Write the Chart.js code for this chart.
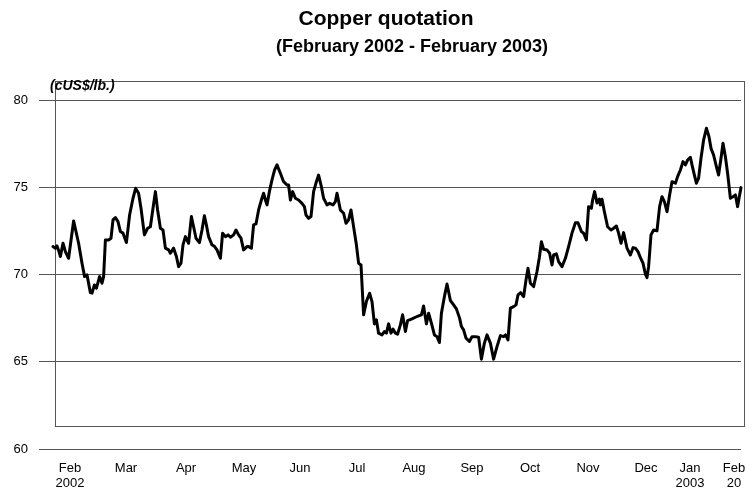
<!DOCTYPE html>
<html>
<head>
<meta charset="utf-8">
<title>Copper quotation</title>
<script src="https://cdn.jsdelivr.net/npm/chart.js@4.4.1/dist/chart.umd.min.js"></script>
<style>
  html, body { margin: 0; padding: 0; background: #fff; }
  #wrap { width: 749px; height: 490px; }
</style>
</head>
<body>
<div id="wrap"><canvas id="chart" width="749" height="490"></canvas></div>
<script>
// Copper price, cUS$/lb, counted in days from the start of the period
const day = [0,1.2,2,2.9,3.7,5,6.2,7.8,10.3,12.8,14.5,15.8,17,18.7,19.5,20.7,21.7,23.3,24.5,25.3,
  26.2,27.8,29,30,31.2,32.5,33.7,35,36.7,38.3,40,41.3,42.8,44,45.7,47.3,48.7,50,51.2,52.3,
  53.7,55,56.2,57.8,58.7,60.3,61.7,62.8,64,65,66.2,67.8,69.2,70.3,71.5,73.2,74.5,75.7,76.7,77.8,
  79.5,80.8,82,83.7,84.8,86.2,87.5,88.7,90.3,91.5,92.8,94,95.3,97,97.8,99.2,100.3,101.5,102.8,104.2,
  105.3,106.2,107,108.2,109.5,110.8,112,113.7,115.3,117,117.8,118.7,119.8,121.2,122.8,124.5,125.7,126.5,127.8,129,
  130.3,131.7,132.8,134.2,135.3,137,138.3,140,141.2,142,143.7,145.3,146.5,147.8,149,150.3,151.7,152.8,154,155.3,
  156.7,158.3,159.5,160.7,161.7,162.8,164.5,165.7,166.7,167.8,169,170,171.2,172.3,173.7,174.8,176.2,177.3,179.5,181.2,
  182.8,184.2,185.3,186.7,187.8,189.2,190.7,192,193.2,194.2,195.7,197,198.7,200.3,201.7,203.3,204.2,205.3,206.5,208.2,
  209.5,211.2,212.8,214.2,215.7,217,218.7,220.3,222,223.7,225.3,226.3,227.5,228.7,230.3,231.5,232.5,233.8,235.3,236.5,
  237.5,238.7,240.3,242,243.2,244.2,245.3,247,248.3,249.5,250.3,251.7,252.8,254.5,256.2,257.8,259.5,261.2,262.5,264.2,
  265.3,266.7,267.8,269.2,269.8,270.8,272,273.2,273.7,274.5,275.7,277.3,279,280.3,281.7,282.8,284,285.3,287,288.7,
  290,291.2,292.5,293.7,295,296.2,297,297.8,299,300.3,302,303.3,304.5,305.7,307,308.3,309.5,311.2,312.3,313.7,
  315,316.2,317.3,318.7,319.5,320.7,321.7,322.8,324,325.3,326.7,328,329,330.3,331.7,332.8,334,335,336.2,337.3,
  338.7,340,341.2,342.3,343.2,344];

const price = [71.60,71.51,71.64,71.35,71.03,71.79,71.31,70.93,73.07,71.79,70.65,69.88,69.98,68.96,68.93,69.40,69.22,69.88,69.50,69.88,
  71.98,71.98,72.08,73.13,73.26,73.03,72.46,72.37,71.83,73.41,74.37,74.94,74.66,73.80,72.27,72.65,72.74,73.80,74.75,73.70,
  72.65,72.55,71.51,71.41,71.22,71.51,71.03,70.45,70.65,71.70,72.17,71.79,73.32,72.74,72.08,71.83,72.55,73.37,72.84,72.17,
  71.70,71.60,71.41,70.93,72.37,72.17,72.27,72.14,72.27,72.55,72.27,72.08,71.41,71.60,71.60,71.51,72.84,72.90,73.70,74.27,
  74.66,74.27,73.99,74.75,75.42,75.99,76.28,75.80,75.32,75.13,75.13,74.27,74.75,74.37,74.27,74.08,73.89,73.41,73.22,73.32,
  74.75,75.32,75.70,75.03,74.37,73.99,74.08,73.99,74.18,74.66,73.70,73.51,72.94,73.13,73.70,72.73,71.70,70.65,70.55,67.69,
  68.45,68.93,68.45,67.17,67.40,66.64,66.54,66.73,66.64,67.17,66.64,66.87,66.64,66.58,67.11,67.69,66.73,67.36,67.46,67.55,
  67.63,67.69,68.20,67.17,67.78,67.21,66.54,66.44,66.10,67.78,68.73,69.46,68.51,68.26,68.03,67.50,67.02,66.83,66.35,66.16,
  66.44,66.44,66.41,65.15,66.07,66.54,66.07,65.15,65.87,66.50,66.44,66.54,66.25,68.07,68.16,68.26,68.83,68.96,68.73,69.69,
  70.36,69.50,69.31,70.17,70.99,71.88,71.45,71.41,71.22,70.55,71.12,71.18,70.74,70.45,70.93,71.60,72.37,72.97,72.97,72.46,
  72.37,71.98,73.89,73.80,74.27,74.75,74.10,74.33,73.99,74.31,73.60,72.74,72.55,72.65,72.78,72.37,71.79,72.40,71.51,71.12,
  71.54,71.51,71.31,70.97,70.65,70.02,69.82,70.45,72.27,72.55,72.50,73.89,74.46,74.18,73.60,74.56,75.32,75.23,75.61,75.99,
  76.47,76.28,76.56,76.72,76.28,75.70,75.23,75.52,76.66,77.71,78.38,77.90,77.23,76.85,76.18,75.70,76.66,77.52,76.75,75.80,
  74.37,74.46,74.56,73.89,74.50,74.98];

// Month labels on the time axis and where they sit (in days)
const monthPos = [8.5, 36.5, 66.5, 95.5, 123.5, 152, 180.5, 209.5, 238.5, 267.5, 296.5, 318.5, 340.5];
const monthLabels = [['Feb', '2002'], 'Mar', 'Apr', 'May', 'Jun', 'Jul', 'Aug', 'Sep', 'Oct', 'Nov', 'Dec', ['Jan', '2003'], ['Feb', '20']];

// Value axis ticks
const yTicks = [60, 65, 70, 75, 80];

const FONT = "'Liberation Sans', Arial, Helvetica, sans-serif";
const GRID = '#555555';

const points = day.map((d, i) => ({ x: d, y: price[i] }));

// Box around the plot, titles and unit label
const decorations = {
  id: 'decorations',
  beforeDatasetsDraw(chart) {
    const { ctx, chartArea, scales } = chart;
    const bottom = Math.round(scales.y.getPixelForValue(61.3)) + 0.5;
    const left = Math.round(chartArea.left) + 0.5;
    const right = Math.round(chartArea.right) + 3.5;
    const top = Math.round(chartArea.top) + 0.5;
    ctx.save();
    ctx.strokeStyle = GRID;
    ctx.lineWidth = 1;
    ctx.strokeRect(left, top, right - left, bottom - top);
    ctx.restore();
  },
  afterDraw(chart) {
    const { ctx, chartArea } = chart;
    ctx.save();
    ctx.fillStyle = '#000';
    ctx.textBaseline = 'middle';
    ctx.textAlign = 'center';
    ctx.font = 'bold 21px ' + FONT;
    ctx.fillText('Copper quotation', 386, 19);
    ctx.font = 'bold 18px ' + FONT;
    ctx.fillText('(February 2002 - February 2003)', 412, 47);
    ctx.textAlign = 'left';
    ctx.font = 'italic bold 14px ' + FONT;
    ctx.fillText('(cUS$/lb.)', chartArea.left - 5, 86);
    ctx.restore();
  }
};

new Chart(document.getElementById('chart'), {
  type: 'line',
  data: {
    datasets: [{
      data: points,
      borderColor: '#000000',
      borderWidth: 3,
      borderJoinStyle: 'round',
      borderCapStyle: 'round',
      pointRadius: 0,
      tension: 0,
      fill: false,
      clip: false
    }]
  },
  options: {
    responsive: false,
    animation: false,
    devicePixelRatio: 1,
    layout: { padding: { top: 81, right: 8, bottom: 0, left: 0 } },
    plugins: {
      legend: { display: false },
      title: { display: false },
      tooltip: { enabled: false }
    },
    scales: {
      x: {
        type: 'linear',
        min: 1,
        max: 344,
        grid: { display: false },
        border: { display: false },
        afterBuildTicks: (scale) => { scale.ticks = monthPos.map(v => ({ value: v })); },
        afterFit: (scale) => { scale.height = 41; scale.paddingLeft = 0; scale.paddingRight = 0; },
        ticks: {
          autoSkip: false,
          maxRotation: 0,
          minRotation: 0,
          padding: 4,
          color: '#000',
          font: { family: FONT, size: 13, lineHeight: 1.15 },
          callback: (value, index) => monthLabels[index]
        }
      },
      y: {
        type: 'linear',
        min: 60,
        max: 81.09,
        afterBuildTicks: (scale) => { scale.ticks = yTicks.map(v => ({ value: v })); },
        afterFit: (scale) => { scale.width = 55; },
        grid: { color: GRID, lineWidth: 1, tickLength: 16, drawTicks: true },
        border: { display: false },
        ticks: {
          padding: 11,
          color: '#000',
          font: { family: FONT, size: 13 }
        }
      }
    }
  },
  plugins: [decorations]
});
</script>
</body>
</html>
